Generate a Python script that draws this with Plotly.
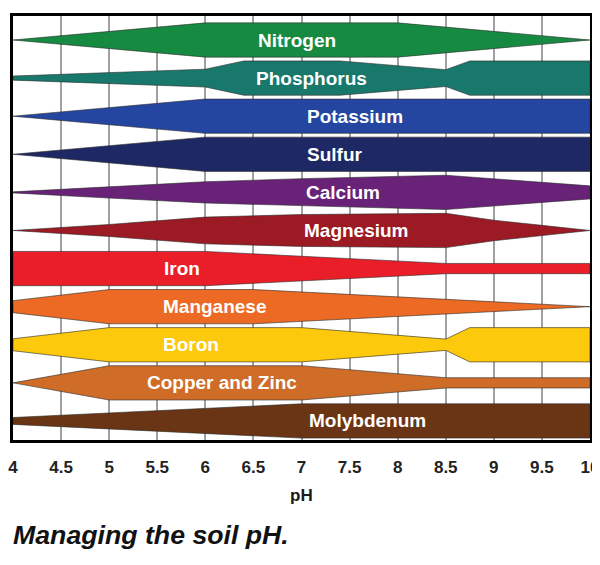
import plotly.graph_objects as go

# ---- data ----
nutrients = ["Nitrogen", "Phosphorus", "Potassium", "Sulfur", "Calcium", "Magnesium",
             "Iron", "Manganese", "Boron", "Copper and Zinc", "Molybdenum"]
colors = ["#178a42", "#17786b", "#2446a0", "#1e2864", "#682378", "#9c1a24",
          "#ea1e28", "#ec6a23", "#fcc90c", "#cf6c28", "#6a3514"]

nitrogen_ph = [4, 6, 8, 10]
nitrogen_w = [0, 1, 1, 0]
phosphorus_ph = [4, 6, 6.4, 7.4, 8.5, 8.75, 10]
phosphorus_w = [0.12, 0.52, 1, 1, 0.49, 1, 1]
potassium_ph = [4, 6, 10]
potassium_w = [0, 1, 1]
sulfur_ph = [4, 6, 10]
sulfur_w = [0, 1, 1]
calcium_ph = [4, 5, 6, 7, 8, 8.5, 10]
calcium_w = [0.03, 0.33, 0.62, 0.8, 0.92, 1, 0.38]
magnesium_ph = [4, 5, 6, 7, 8.5, 9, 9.5, 10]
magnesium_w = [0, 0.35, 0.78, 0.93, 1, 0.6, 0.3, 0]
iron_ph = [4, 6, 8.5, 10]
iron_w = [1, 1, 0.3, 0.3]
manganese_ph = [4, 5, 6.5, 10]
manganese_w = [0.35, 1, 1, 0]
boron_ph = [4, 5, 7, 8.5, 8.75, 10]
boron_w = [0.35, 1, 1, 0.33, 1, 1]
copper_zinc_ph = [4, 5, 7, 8.5, 10]
copper_zinc_w = [0, 1, 1, 0.3, 0.3]
molybdenum_ph = [4, 7, 10]
molybdenum_w = [0.2, 1, 1]

profiles_ph = [nitrogen_ph, phosphorus_ph, potassium_ph, sulfur_ph, calcium_ph, magnesium_ph,
               iron_ph, manganese_ph, boron_ph, copper_zinc_ph, molybdenum_ph]
profiles_w = [nitrogen_w, phosphorus_w, potassium_w, sulfur_w, calcium_w, magnesium_w,
              iron_w, manganese_w, boron_w, copper_zinc_w, molybdenum_w]

label_x = [6.53, 6.51, 7.04, 7.04, 7.03, 7.01, 5.55, 5.54, 5.54, 5.37, 7.06]

ph_ticks = [4, 4.5, 5, 5.5, 6, 6.5, 7, 7.5, 8, 8.5, 9, 9.5, 10]

HALF = 0.45
FONT = "Liberation Sans, Arial, sans-serif"

fig = go.Figure()
n = len(nutrients)
for i, name in enumerate(nutrients):
    c = n - 1 - i
    xs = profiles_ph[i]
    ws = profiles_w[i]
    px = list(xs) + list(reversed(xs)) + [xs[0]]
    py = [c + HALF * w for w in ws] + [c - HALF * w for w in reversed(ws)] + [c + HALF * ws[0]]
    fig.add_trace(go.Scatter(
        x=px, y=py, mode="lines", fill="toself", fillcolor=colors[i],
        line=dict(color="rgba(45,45,45,0.6)", width=1), name=name,
        hoverinfo="name", showlegend=False))
    fig.add_annotation(x=label_x[i], y=c, xref="x", yref="y", text=name,
                       showarrow=False, xanchor="left", yanchor="middle",
                       font=dict(family=FONT, size=19, color="white", weight="bold"))

fig.add_annotation(x=0.5, y=-0.13, xref="paper", yref="paper", text="pH",
                   showarrow=False, xanchor="center", yanchor="middle",
                   font=dict(family=FONT, size=17, color="#1a1a1a", weight="bold"))
fig.add_annotation(x=-0.004, y=-0.224, xref="paper", yref="paper",
                   text="<b><i>Managing the soil pH.</i></b>",
                   showarrow=False, xanchor="left", yanchor="middle",
                   font=dict(family=FONT, size=26.7, color="#111111"))

fig.update_layout(
    width=592, height=542,
    margin=dict(l=5, r=10, t=8, b=110, autoexpand=False),
    paper_bgcolor="white", plot_bgcolor="white",
    xaxis=dict(range=[4, 10], tickvals=ph_ticks, ticktext=[f"{v:g}" for v in ph_ticks],
               showgrid=True, gridcolor="#a0a0a0", gridwidth=2,
               showline=True, mirror=True, linecolor="black", linewidth=2.5,
               ticks="outside", ticklen=10, tickcolor="rgba(0,0,0,0)",
               tickfont=dict(family=FONT, size=17, color="#222222", weight="bold"),
               ticklabeloverflow="allow",
               zeroline=False, fixedrange=True, automargin=False),
    yaxis=dict(range=[-0.5, 10.63], showgrid=False, showticklabels=False,
               showline=True, mirror=True, linecolor="black", linewidth=2.5,
               zeroline=False, fixedrange=True, automargin=False),
)

fig.write_html("out.html")
